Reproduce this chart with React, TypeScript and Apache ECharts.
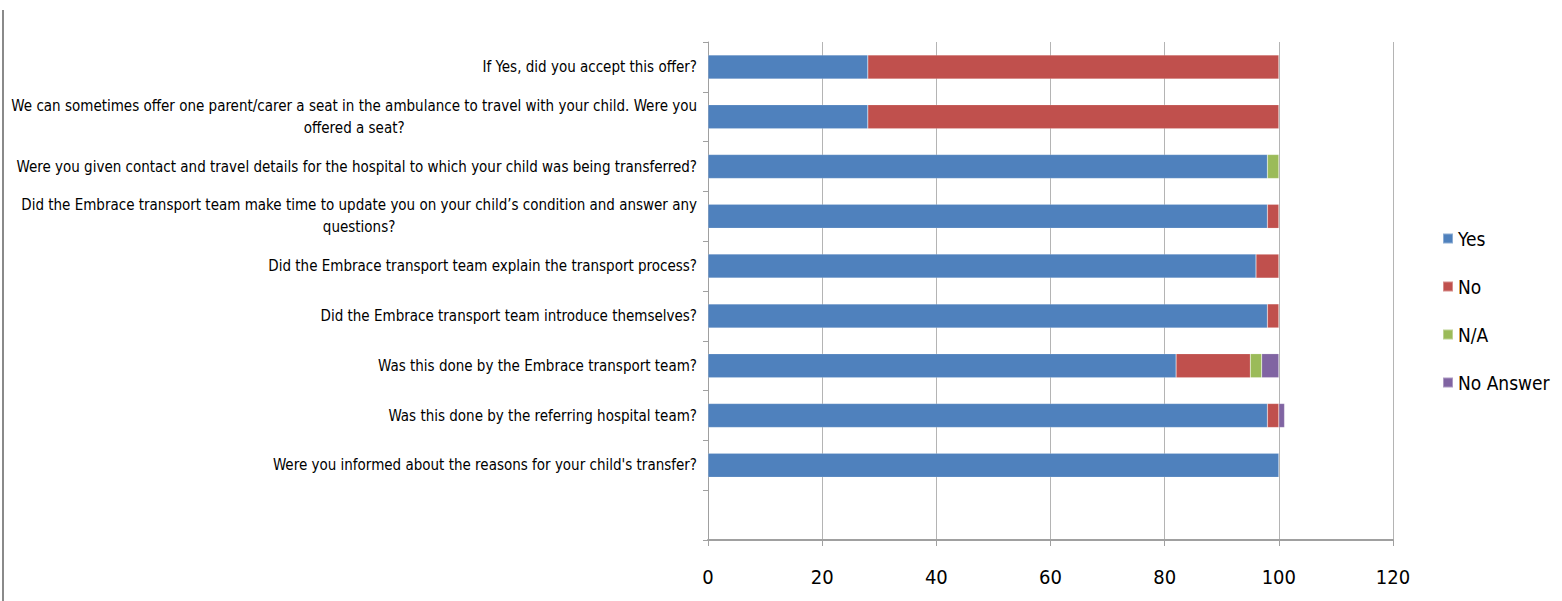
import React, { useEffect, useRef } from "react";
import * as echarts from "echarts";

const categories = [
  "",
  "Were you informed about the reasons for your child's transfer?",
  "Was this done by the referring hospital team?",
  "Was this done by the Embrace transport team?",
  "Did the Embrace transport team introduce themselves?",
  "Did the Embrace transport team explain the transport process?",
  "Did the Embrace transport team make time to update you on your child\u2019s condition and answer any\nquestions?",
  "Were you given contact and travel details for the hospital to which your child was being transferred?",
  "We can sometimes offer one parent/carer a seat in the ambulance to travel with your child. Were you\noffered a seat?",
  "If Yes, did you accept this offer?",
];

const yesValues = [0, 100, 98, 82, 98, 96, 98, 98, 28, 28];
const noValues = [0, 0, 2, 13, 2, 4, 2, 0, 72, 72];
const naValues = [0, 0, 0, 2, 0, 0, 0, 2, 0, 0];
const noAnswerValues = [0, 0, 1, 3, 0, 0, 0, 0, 0, 0];

const xTicks = [0, 20, 40, 60, 80, 100, 120];

const FONT = "'Liberation Sans Narrow', 'DejaVu Sans Condensed', 'Liberation Sans', sans-serif";

export default function App() {
  const ref = useRef<HTMLDivElement>(null);
  useEffect(() => {
    if (!ref.current) return;
    const chart = echarts.init(ref.current, null, { renderer: "svg" });
    const mk = (name: string, data: number[], color: string) => ({
      name,
      type: "bar",
      stack: "total",
      barWidth: 24,
      data: data.map((v) => (v === 0 ? "-" : v)),
      itemStyle: { color, borderColor: "rgba(255,255,255,0.35)", borderWidth: 0.5 },
    });
    chart.setOption({
      animation: false,
      backgroundColor: "#ffffff",
      textStyle: { fontFamily: FONT },
      grid: {
        left: 708,
        right: 169,
        top: 42,
        bottom: 61,
        containLabel: false,
        outerBoundsMode: "none",
      },
      legend: {
        orient: "vertical",
        left: 1437,
        top: 224,
        icon: "rect",
        itemWidth: 10,
        itemHeight: 10,
        itemGap: 29,
        textStyle: { fontFamily: FONT, fontSize: 19, color: "#000" },
        data: ["Yes", "No", "N/A", "No Answer"],
      },
      xAxis: {
        type: "value",
        min: xTicks[0],
        max: xTicks[xTicks.length - 1],
        interval: 20,
        axisLine: { show: true, lineStyle: { color: "#A0A0A0", width: 2 } },
        axisTick: { show: true, length: 6, lineStyle: { color: "#A0A0A0" } },
        splitLine: { show: true, lineStyle: { color: "#B4B4B4", width: 1 } },
        axisLabel: { fontFamily: FONT, fontSize: 20, color: "#000", margin: 27 },
      },
      yAxis: {
        type: "category",
        data: categories,
        axisLine: { show: true, lineStyle: { color: "#A0A0A0", width: 1 } },
        axisTick: { show: true, length: 5, lineStyle: { color: "#A0A0A0" } },
        axisLabel: {
          fontFamily: FONT,
          fontSize: 15,
          color: "#000",
          margin: 11,
          lineHeight: 22,
          formatter: (v: string) =>
            v
              .split("\n")
              .map((l) => `{c|${l}}`)
              .join("\n"),
          rich: {
            c: { fontFamily: FONT, fontSize: 15, color: "#000", align: "center", lineHeight: 22 },
          },
        },
      },
      series: [
        mk("Yes", yesValues, "#4F81BD"),
        mk("No", noValues, "#C0504D"),
        mk("N/A", naValues, "#9BBB59"),
        mk("No Answer", noAnswerValues, "#8064A2"),
      ],
      graphic: [
        {
          type: "line",
          shape: { x1: 3, y1: 10, x2: 3, y2: 601 },
          style: { stroke: "#8A8A8A", lineWidth: 2 },
        },
      ],
    });
    return () => chart.dispose();
  }, []);
  return (
    <div
      ref={ref}
      style={{ position: "fixed", left: 0, top: 0, width: 1562, height: 601, background: "#fff" }}
    />
  );
}
